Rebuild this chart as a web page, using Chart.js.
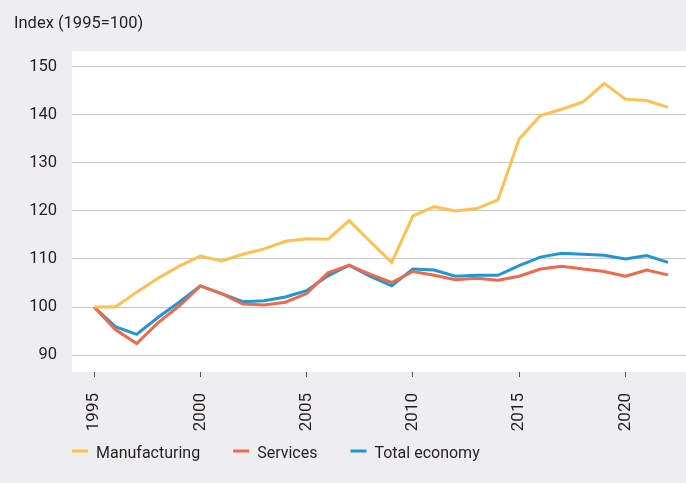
<!DOCTYPE html>
<html>
<head>
    <title>Productivity index</title>
    <meta charset="UTF-8">
    <script src="https://cdn.jsdelivr.net/npm/chart.js"></script>
    <style>
        body { margin: 0; background: #eeeef0; }
        .chart-container { position: relative; width: 686px; height: 483px; }
    </style>
</head>
<body>
    <div class="chart-container"><canvas id="indexChart"></canvas></div>
    <script>
        const years = [1995, 1996, 1997, 1998, 1999, 2000, 2001, 2002, 2003, 2004,
                       2005, 2006, 2007, 2008, 2009, 2010, 2011, 2012, 2013, 2014,
                       2015, 2016, 2017, 2018, 2019, 2020, 2021, 2022];
        const manufacturing = [100, 100, 103.1, 106, 108.5, 110.6, 109.6, 111, 112.1, 113.7,
                               114.2, 114.1, 118, 113.6, 109.3, 119, 120.9, 120, 120.5, 122.3,
                               135, 139.9, 141.2, 142.7, 146.6, 143.3, 143, 141.6];
        const services = [100, 95.3, 92.4, 96.7, 100.2, 104.4, 102.8, 100.6, 100.4, 101,
                          102.8, 107.1, 108.7, 106.8, 105.1, 107.4, 106.6, 105.7, 106, 105.6,
                          106.4, 107.9, 108.5, 107.9, 107.4, 106.4, 107.7, 106.7];
        const totalEconomy = [100, 95.9, 94.3, 97.8, 101, 104.4, 102.8, 101.1, 101.3, 102.1,
                              103.4, 106.5, 108.7, 106.4, 104.4, 107.9, 107.7, 106.4, 106.6, 106.6,
                              108.6, 110.4, 111.2, 111, 110.8, 110, 110.7, 109.3];
        const xTicks = [1995, 2000, 2005, 2010, 2015, 2020];
        const yTicks = [90, 100, 110, 120, 130, 140, 150];
        const yTitle = 'Index (1995=100)';

        const font = "'Roboto', 'Liberation Sans', sans-serif";
        const textColor = '#231f20';

        function points(values) {
            return values.map((v, i) => ({ x: years[i], y: v }));
        }

        // white plot area plus title and legend drawn by hand
        const decor = {
            id: 'decor',
            beforeDraw(chart) {
                const { ctx, chartArea: a } = chart;
                ctx.save();
                ctx.fillStyle = '#ffffff';
                ctx.fillRect(a.left, a.top, a.right - a.left, a.bottom - a.top);
                ctx.restore();
            },
            afterDraw(chart) {
                const ctx = chart.ctx;
                ctx.save();
                ctx.fillStyle = textColor;
                ctx.textBaseline = 'alphabetic';
                ctx.font = '16.5px ' + font;
                ctx.fillText(yTitle, 14, 28);

                ctx.font = '16px ' + font;
                let x = 72;
                chart.data.datasets.forEach(ds => {
                    ctx.strokeStyle = ds.borderColor;
                    ctx.lineWidth = 3;
                    ctx.beginPath();
                    ctx.moveTo(x, 451);
                    ctx.lineTo(x + 16, 451);
                    ctx.stroke();
                    ctx.fillStyle = textColor;
                    ctx.fillText(ds.label, x + 24, 458);
                    x += 24 + ctx.measureText(ds.label).width + 33;
                });
                ctx.restore();
            }
        };

        const ctx = document.getElementById('indexChart').getContext('2d');
        const chart = new Chart(ctx, {
            type: 'line',
            data: {
                datasets: [{
                    label: 'Manufacturing',
                    data: points(manufacturing),
                    borderColor: '#ffc04f'
                }, {
                    label: 'Services',
                    data: points(services),
                    borderColor: '#f0694b'
                }, {
                    label: 'Total economy',
                    data: points(totalEconomy),
                    borderColor: '#1f97d4'
                }]
            },
            options: {
                responsive: true,
                maintainAspectRatio: false,
                animation: false,
                elements: {
                    point: { radius: 0 },
                    line: { borderWidth: 3, tension: 0 }
                },
                layout: { padding: { top: 51, right: 0, left: 0, bottom: 0 } },
                scales: {
                    x: {
                        type: 'linear',
                        min: 1993.96,
                        max: 2022.85,
                        border: { display: false },
                        grid: {
                            drawOnChartArea: false,
                            drawTicks: true,
                            tickLength: 5,
                            tickColor: '#555555'
                        },
                        ticks: {
                            minRotation: 90,
                            maxRotation: 90,
                            padding: 16,
                            color: textColor,
                            font: { family: font, size: 17 },
                            callback: v => String(v)
                        },
                        afterBuildTicks: s => { s.ticks = xTicks.map(v => ({ value: v })); },
                        afterFit: s => { s.height = 111; }
                    },
                    y: {
                        min: 86.46,
                        max: 153.33,
                        border: { display: false },
                        grid: {
                            color: '#c8c8c8',
                            lineWidth: 1,
                            drawTicks: false
                        },
                        ticks: {
                            padding: 15,
                            color: textColor,
                            font: { family: font, size: 16.5 }
                        },
                        afterBuildTicks: s => { s.ticks = yTicks.map(v => ({ value: v })); },
                        afterFit: s => { s.width = 72; }
                    }
                },
                plugins: {
                    legend: { display: false },
                    tooltip: { enabled: false }
                }
            },
            plugins: [decor]
        });
    </script>
</body>
</html>
